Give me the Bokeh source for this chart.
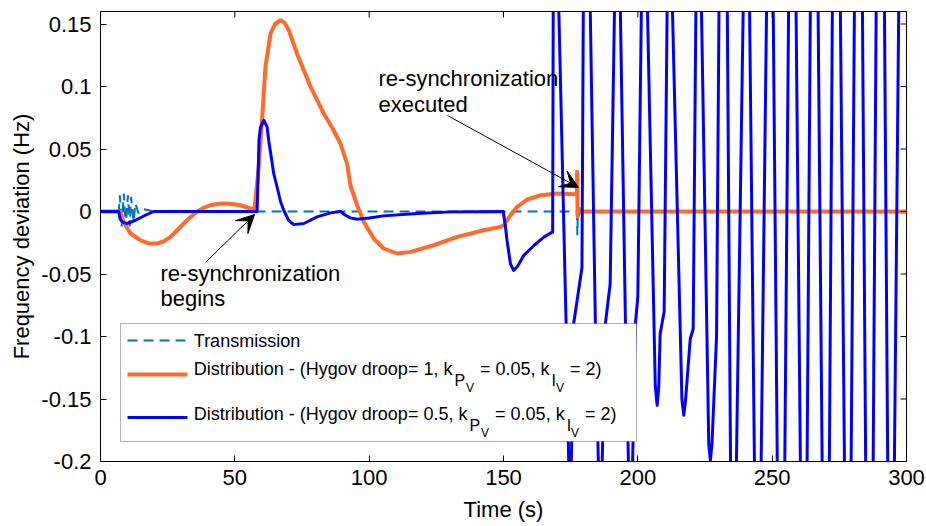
from bokeh.plotting import figure
from bokeh.models import Range1d, FixedTicker, Label, Arrow, VeeHead, BoxAnnotation
from bokeh.embed import file_html
from bokeh.resources import INLINE

# ---------------- data ----------------
trans_t = [0, 6.8, 7.2, 7.9, 8.7, 9.4, 10.2, 10.9, 11.4, 12.3, 13.0, 14.1, 15.5, 18.0, 19.5,
           177.3, 177.5, 177.7, 300]
trans_v = [0, 0, 0.013, -0.012, 0.0144, -0.0134, 0.013, -0.012, 0.0117, -0.008, 0.0064, -0.0013,
           0.002, 0.001, 0, 0, -0.019, 0, 0]

dist1_t = [0, 7.4, 8.6, 11.2, 14.9, 18.0, 21.1, 23.5, 26.1, 28.5, 31.0, 33.5, 36.0, 38.5, 40.9,
           43.5, 45.9, 49.0, 52.1, 55.0, 57.3, 58.9, 60.2, 61.4, 63.3, 65.0, 67.0, 68.5, 70.1,
           73.2, 78.2, 83.1, 86.5, 89.3, 91.8, 93.0, 95.5, 98.0, 101.7, 105.4, 110.4, 115.4,
           124.0, 132.8, 142.6, 148.9, 150.1, 152.6, 155.1, 158.8, 163.8, 170.0, 176.8, 177.3,
           177.4, 177.6, 178.2, 179.0, 180.0, 300]
dist1_v = [0, 0, -0.0086, -0.0176, -0.023, -0.0255, -0.0256, -0.024, -0.0203, -0.015, -0.0096,
           -0.0045, 0, 0.003, 0.005, 0.006, 0.0064, 0.006, 0.005, 0.003, 0.0016, 0.0357, 0.0757,
           0.1157, 0.1424, 0.150, 0.153, 0.151, 0.145, 0.126, 0.0997, 0.0784, 0.066, 0.0544,
           0.038, 0.021, 0.005, -0.0083, -0.0216, -0.0296, -0.0336, -0.0323, -0.027, -0.0203,
           -0.015, -0.0123, -0.011, -0.003, 0.0037, 0.0096, 0.013, 0.0144, 0.0138, 0.0138,
           0.0317, -0.004, 0.002, -0.001, 0, 0]

dist2_t = [0, 6.8, 7.3, 8.1, 9.9, 13.0, 16.7, 19.8, 58.3, 59.0, 59.5, 60.8, 62.0, 62.6, 64.5,
           65.8, 67.0, 68.2, 70.0, 71.9, 75.7, 80.6, 85.6, 89.3, 91.2, 93.0, 95.5, 100.0, 105.4,
           117.9, 130.3, 149.9, 150.6, 151.3, 152.6, 153.8, 155.2, 157.5, 161.3, 165.0, 168.1,
           168.3, 168.5, 169.6, 170.6, 173.3, 174.8, 176.1, 179.2, 179.7, 181.0, 182.3, 184.2,
           186.0, 187.9, 189.7, 191.3, 192.4, 193.5, 195.4, 197.3, 199.1, 200.0, 201.3, 202.5,
           203.6, 206.5, 207.2, 207.8, 208.3, 209.8, 210.9, 211.9, 212.9, 216.4, 217.1, 217.8,
           219.5, 220.6, 221.6, 222.6, 223.7, 226.4, 227.0, 227.6, 229.3, 230.2, 231.7, 233.3,
           234.5, 235.6, 236.7, 239.2, 240.4, 241.6, 243.4, 244.6, 245.9, 247.9, 249.1, 250.4,
           251.9, 253.3, 254.7, 256.1, 257.5, 258.9, 260.5, 261.7, 263.0, 264.2, 265.6, 267.1,
           268.6, 270.0, 271.3, 272.4, 273.9, 275.4, 276.9, 278.1, 279.4, 280.6, 282.1, 283.6,
           284.8, 286.2, 287.6, 288.7, 290.2, 291.8, 293.0, 294.2, 295.5, 297.1, 298.6, 300.0]
dist2_v = [0, 0, -0.006, -0.0085, -0.0096, -0.007, -0.003, 0, 0, 0.057, 0.067, 0.073, 0.0677,
           0.057, 0.030, 0.019, 0.008, 0.001, -0.007, -0.0105, -0.0096, -0.0043, -0.0011, 0,
           -0.003, -0.0051, -0.0062, -0.0052, -0.0035, -0.0016, -0.0003, 0, -0.01, -0.023,
           -0.042, -0.0472, -0.044, -0.0352, -0.0272, -0.0205, -0.0165, -0.0165, 0.16, 0.31,
           0.16, -0.09, -0.26, -0.09, -0.045, 0.16, 0.32, 0.16, -0.09, -0.27, -0.09, -0.058,
           0.16, 0.32, 0.16, -0.09, -0.28, -0.09, -0.068, 0.16, 0.33, 0.16, -0.14, -0.155,
           -0.14, -0.098, -0.08, 0.16, 0.33, 0.16, -0.15, -0.163, -0.15, -0.102, -0.094, 0.16,
           0.34, 0.16, -0.186, -0.199, -0.186, -0.10, 0.16, 0.35, 0.16, -0.2, -0.25, -0.2, 0.16,
           0.36, 0.16, -0.2, -0.30, -0.2, 0.16, 0.36, 0.16, -0.2, -0.30, -0.2, 0.16, 0.36, 0.16,
           -0.2, -0.30, -0.2, 0.16, 0.36, 0.16, -0.2, -0.30, -0.2, 0.16, 0.36, 0.16, -0.2, -0.30,
           -0.2, 0.16, 0.36, 0.16, -0.2, -0.30, -0.2, 0.16, 0.36, 0.16, -0.2, -0.30, -0.2, 0.16,
           0.36, 0.20]

x_ticks = [0, 50, 100, 150, 200, 250, 300]
y_ticks = [-0.2, -0.15, -0.1, -0.05, 0, 0.05, 0.1, 0.15]
y_tick_labels = ["-0.2", "-0.15", "-0.1", "-0.05", "0", "0.05", "0.1", "0.15"]

series_names = ["Transmission",
                "Distribution - (Hygov droop= 1, k",
                "Distribution - (Hygov droop= 0.5, k"]

# ---------------- layout / style ----------------
W, H = 926, 526
L, R, T, B = 100, 20, 11, 65
X0, X1, Y0, Y1 = 0, 300, -0.2, 0.16
FONT = "Liberation Sans"
C_TRANS, C_D1, C_D2 = "#0072BD", "#FF6B2B", "#0000FF"
TICK = 6

FW, FH = W - L - R, H - T - B


def px2t(px):
    return X0 + (px - L) / FW * (X1 - X0)


def py2v(py):
    return Y1 - (py - T) / FH * (Y1 - Y0)


ARIAL = {' ': 278, '(': 333, ')': 333, ',': 278, '-': 333, '.': 278, '=': 584, 'D': 722,
         'H': 722, 'I': 278, 'P': 667, 'V': 667, 'T': 611, 'a': 556, 'b': 556, 'c': 500,
         'd': 556, 'e': 556, 'g': 556, 'h': 556, 'i': 222, 'k': 500, 'm': 833, 'n': 556,
         'o': 556, 'p': 556, 'r': 333, 's': 500, 't': 278, 'u': 556, 'v': 500, 'y': 500,
         'z': 500, 'q': 556}
for d in "0123456789":
    ARIAL[d] = 556


def tw(s, size):
    return sum(ARIAL.get(c, 556) for c in s) * size / 1000.0


p = figure(width=W, height=H, x_range=Range1d(X0, X1), y_range=Range1d(Y0, Y1),
           output_backend="svg", toolbar_location=None,
           min_border_left=L, min_border_right=R, min_border_top=T, min_border_bottom=B,
           x_axis_label="Time (s)", y_axis_label="Frequency deviation (Hz)")
p.grid.visible = False
p.outline_line_color = "black"
p.outline_line_width = 1
p.background_fill_color = "white"
p.border_fill_color = "white"

for ax in (p.xaxis[0], p.yaxis[0]):
    ax.major_tick_in = TICK
    ax.major_tick_out = 0
    ax.minor_tick_line_color = None
    ax.axis_line_color = "black"
    ax.major_tick_line_color = "black"
    ax.major_label_text_font = FONT
    ax.major_label_text_font_size = "22px"
    ax.major_label_text_color = "black"
    ax.axis_label_text_font = FONT
    ax.axis_label_text_font_style = "normal"
    ax.axis_label_text_font_size = "22px"
    ax.axis_label_text_color = "black"

p.xaxis.ticker = FixedTicker(ticks=x_ticks)
p.yaxis.ticker = FixedTicker(ticks=y_ticks)
p.yaxis.major_label_overrides = dict(zip(y_ticks, y_tick_labels))
p.xaxis.major_label_standoff = 8
p.yaxis.major_label_standoff = 9
p.xaxis.axis_label_standoff = 9
p.yaxis.axis_label_standoff = 4

# inward ticks on the top and right edges (box on)
dt_tick = TICK / FW * (X1 - X0)
dv_tick = TICK / FH * (Y1 - Y0)
for t in x_ticks:
    p.add_layout(Arrow(end=None, x_start=t, y_start=Y1, x_end=t, y_end=Y1 - dv_tick,
                       line_color="black", line_width=1))
for v in y_ticks:
    p.add_layout(Arrow(end=None, x_start=X1, y_start=v, x_end=X1 - dt_tick, y_end=v,
                       line_color="black", line_width=1))

# ---------------- series ----------------
p.line(trans_t, trans_v, line_color=C_TRANS, line_width=2, line_dash="10 6")
p.line(dist1_t, dist1_v, line_color=C_D1, line_width=4, line_join="round")
p.line(dist2_t, dist2_v, line_color=C_D2, line_width=3, line_join="round")

# ---------------- annotations ----------------
def add_text(px, py, text, size="22px"):
    p.add_layout(Label(x=px2t(px), y=py2v(py), text=text, text_font=FONT,
                       text_font_size=size, text_color="black",
                       text_align="left", text_baseline="middle"))


add_text(160, 273, "re-synchronization")
add_text(160, 298, "begins")
add_text(378, 78, "re-synchronization")
add_text(378, 104, "executed")

for (xs, ys, xe, ye) in ((205, 262, 254, 214), (447, 115, 578, 187)):
    p.add_layout(Arrow(end=VeeHead(size=18, fill_color="black", line_color="black",
                                   line_width=1),
                       x_start=px2t(xs), y_start=py2v(ys), x_end=px2t(xe), y_end=py2v(ye),
                       line_color="black", line_width=1))

# ---------------- legend (drawn manually for subscripts) ----------------
p.add_layout(BoxAnnotation(left=px2t(120), right=px2t(636), top=py2v(323), bottom=py2v(441),
                           fill_color="white", fill_alpha=1.0, line_color="black",
                           line_width=1))

rows = [(340, 340, C_TRANS, 2, "10 6"), (374, 368, C_D1, 4, None), (417, 413, C_D2, 3, None)]
SP = tw(" ", 18)
for i, (ly, ty, col, lw, dash) in enumerate(rows):
    kw = dict(line_dash=dash) if dash else {}
    p.add_layout(Arrow(end=None, x_start=px2t(127), y_start=py2v(ly), x_end=px2t(187),
                       y_end=py2v(ly), line_color=col, line_width=lw, **kw))
    tx = 193.3
    add_text(tx, ty, series_names[i], "18px")
    if i == 0:
        continue
    x = tx + tw(series_names[i], 18) + 2
    add_text(x, ty + 12, "P", "16px")
    x += tw("P", 16) + 1
    add_text(x, ty + 19, "V", "12px")
    x += tw("V", 12) + 1 + SP
    add_text(x, ty, "= 0.05, k", "18px")
    x += tw("= 0.05, k", 18) + 2
    add_text(x, ty + 12, "I", "16px")
    x += tw("I", 16)
    add_text(x, ty + 19, "V", "12px")
    x += tw("V", 12) + 1 + SP
    add_text(x, ty, "= 2)", "18px")

open("out.html", "w").write(file_html(p, INLINE))
